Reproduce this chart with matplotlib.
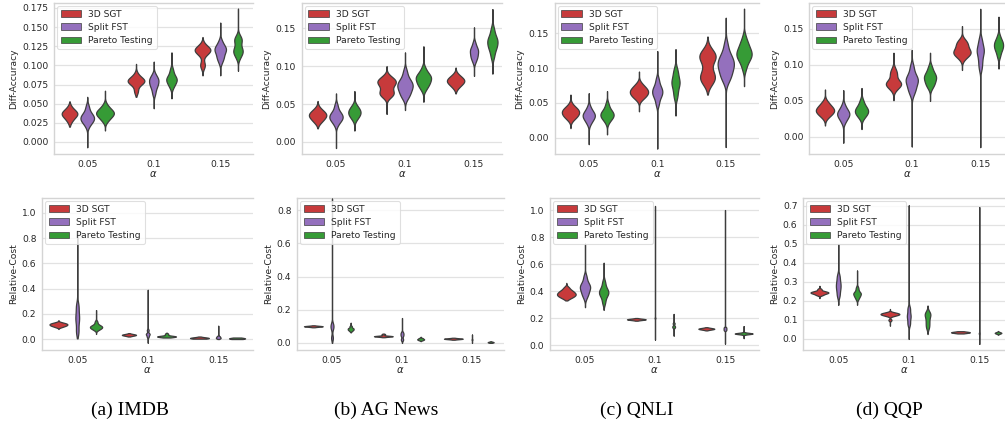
import numpy as np
import matplotlib
matplotlib.use("Agg")
import matplotlib.pyplot as plt
from matplotlib.patches import Patch

# ---------------- data ----------------
ALPHAS = ["0.05", "0.1", "0.15"]
METHODS = ["3D SGT", "Split FST", "Pareto Testing"]
CAPTIONS = ["(a) IMDB", "(b) AG News", "(c) QNLI", "(d) QQP"]

# each violin: list of (value, number of runs); one violin per alpha
IMDB_ACC_SGT = [[(0.026, 1), (0.030, 2), (0.034, 3), (0.037, 4), (0.040, 3), (0.043, 1), (0.046, 1)],
                [(0.066, 2), (0.074, 2), (0.078, 4), (0.081, 5), (0.085, 2), (0.089, 1)],
                [(0.099, 2), (0.104, 1), (0.114, 2), (0.118, 3), (0.121, 4), (0.124, 2), (0.128, 1)]]
IMDB_ACC_FST = [[(0.020, 1), (0.025, 2), (0.029, 3), (0.033, 3), (0.037, 2), (0.042, 1), (0.047, 1)],
                [(0.063, 1), (0.069, 1), (0.074, 2), (0.079, 2), (0.083, 2), (0.088, 1)],
                [(0.104, 1), (0.110, 2), (0.116, 2), (0.121, 3), (0.126, 2), (0.132, 1)]]
IMDB_ACC_PAR = [[(0.028, 2), (0.032, 2), (0.035, 3), (0.038, 4), (0.041, 3), (0.045, 2), (0.049, 1)],
                [(0.071, 1), (0.076, 2), (0.081, 3), (0.085, 2), (0.090, 1), (0.095, 1)],
                [(0.110, 1), (0.116, 2), (0.121, 2), (0.127, 1), (0.133, 2), (0.138, 1)]]
IMDB_ACC_SGT_RANGE = [(0.020, 0.053), (0.059, 0.102), (0.087, 0.137)]
IMDB_ACC_FST_RANGE = [(-0.007, 0.059), (0.044, 0.105), (0.087, 0.156)]
IMDB_ACC_PAR_RANGE = [(0.015, 0.067), (0.057, 0.117), (0.093, 0.174)]

AG_ACC_SGT = [[(0.026, 2), (0.030, 3), (0.034, 4), (0.037, 4), (0.041, 3), (0.045, 1)],
              [(0.060, 2), (0.064, 3), (0.068, 2), (0.073, 2), (0.077, 3), (0.081, 4), (0.086, 2)],
              [(0.072, 2), (0.076, 3), (0.080, 6), (0.084, 4), (0.088, 2)]]
AG_ACC_FST = [[(0.022, 1), (0.027, 2), (0.031, 3), (0.035, 3), (0.039, 2), (0.044, 1), (0.049, 1)],
              [(0.057, 1), (0.062, 2), (0.067, 2), (0.072, 3), (0.077, 3), (0.082, 2), (0.088, 1), (0.094, 1)],
              [(0.106, 1), (0.112, 2), (0.118, 2), (0.123, 2), (0.130, 1)]]
AG_ACC_PAR = [[(0.029, 1), (0.033, 2), (0.037, 3), (0.041, 3), (0.045, 2), (0.049, 1)],
              [(0.068, 1), (0.073, 2), (0.078, 3), (0.083, 3), (0.087, 3), (0.092, 2), (0.098, 1)],
              [(0.112, 1), (0.119, 1), (0.125, 2), (0.131, 2), (0.136, 2), (0.142, 1), (0.149, 1)]]
AG_ACC_SGT_RANGE = [(0.018, 0.054), (0.037, 0.100), (0.064, 0.098)]
AG_ACC_FST_RANGE = [(-0.008, 0.064), (0.042, 0.118), (0.087, 0.151)]
AG_ACC_PAR_RANGE = [(0.015, 0.067), (0.053, 0.126), (0.090, 0.175)]

QNLI_ACC_SGT = [[(0.027, 2), (0.031, 3), (0.035, 4), (0.039, 4), (0.043, 3), (0.048, 1)],
                [(0.056, 2), (0.060, 3), (0.064, 4), (0.068, 4), (0.072, 3), (0.077, 2)],
                [(0.077, 1), (0.082, 2), (0.087, 2), (0.092, 2), (0.100, 1), (0.108, 1), (0.113, 2),
                 (0.117, 2), (0.121, 2), (0.127, 1)]]
QNLI_ACC_FST = [[(0.020, 1), (0.025, 2), (0.030, 3), (0.034, 3), (0.039, 2), (0.045, 1)],
                [(0.048, 1), (0.055, 1), (0.061, 2), (0.066, 2), (0.071, 2), (0.077, 1), (0.084, 1)],
                [(0.080, 1), (0.087, 2), (0.094, 2), (0.100, 2), (0.106, 3), (0.112, 2), (0.118, 2),
                 (0.126, 1), (0.135, 1)]]
QNLI_ACC_PAR = [[(0.022, 1), (0.027, 2), (0.031, 3), (0.035, 3), (0.039, 2), (0.044, 1), (0.049, 1)],
                [(0.058, 1), (0.066, 1), (0.073, 1), (0.079, 2), (0.085, 1), (0.091, 1), (0.098, 1)],
                [(0.098, 1), (0.105, 1), (0.111, 2), (0.117, 3), (0.123, 3), (0.129, 2), (0.136, 2), (0.145, 1)]]
QNLI_ACC_SGT_RANGE = [(0.014, 0.062), (0.038, 0.095), (0.062, 0.145)]
QNLI_ACC_FST_RANGE = [(-0.009, 0.064), (-0.015, 0.124), (-0.013, 0.172)]
QNLI_ACC_PAR_RANGE = [(0.005, 0.067), (0.032, 0.127), (0.074, 0.185)]

QQP_ACC_SGT = [[(0.028, 2), (0.032, 3), (0.036, 5), (0.040, 4), (0.044, 2), (0.048, 2)],
               [(0.065, 1), (0.069, 2), (0.073, 4), (0.077, 3), (0.082, 1), (0.087, 2), (0.091, 1), (0.095, 1)],
               [(0.108, 1), (0.112, 2), (0.116, 4), (0.120, 3), (0.124, 2), (0.129, 3), (0.134, 2)]]
QQP_ACC_FST = [[(0.020, 1), (0.025, 2), (0.030, 3), (0.034, 3), (0.039, 2), (0.045, 1)],
               [(0.059, 1), (0.066, 2), (0.073, 2), (0.079, 3), (0.085, 2), (0.092, 1), (0.099, 1)],
               [(0.096, 1), (0.105, 1), (0.113, 1), (0.120, 2), (0.127, 1), (0.135, 1)]]
QQP_ACC_PAR = [[(0.026, 1), (0.030, 2), (0.034, 3), (0.038, 3), (0.042, 2), (0.047, 1), (0.051, 1)],
               [(0.068, 1), (0.073, 2), (0.078, 2), (0.083, 3), (0.088, 2), (0.093, 1), (0.098, 1)],
               [(0.112, 1), (0.118, 1), (0.123, 2), (0.128, 2), (0.133, 2), (0.140, 1)]]
QQP_ACC_SGT_RANGE = [(0.016, 0.066), (0.051, 0.117), (0.093, 0.154)]
QQP_ACC_FST_RANGE = [(-0.008, 0.065), (-0.013, 0.121), (-0.014, 0.178)]
QQP_ACC_PAR_RANGE = [(0.011, 0.068), (0.050, 0.117), (0.095, 0.167)]

IMDB_COST_SGT = [[(0.095, 2), (0.103, 3), (0.110, 4), (0.117, 4), (0.124, 4), (0.132, 2)],
                 [(0.028, 3), (0.032, 6), (0.036, 6)],
                 [(0.008, 20)]]
IMDB_COST_FST = [[(0.06, 1), (0.14, 1), (0.19, 1), (0.26, 1)],
                 [(0.02, 1), (0.04, 2), (0.07, 1)],
                 [(0.008, 3), (0.02, 2)]]
IMDB_COST_PAR = [[(0.07, 1), (0.08, 2), (0.09, 3), (0.10, 3), (0.11, 2), (0.125, 1), (0.14, 1)],
                 [(0.020, 17), (0.040, 3)],
                 [(0.005, 17)]]
IMDB_COST_SGT_RANGE = [(0.08, 0.15), (0.020, 0.047), (0.003, 0.020)]
IMDB_COST_FST_RANGE = [(0.005, 0.86), (-0.03, 0.39), (0.0, 0.105)]
IMDB_COST_PAR_RANGE = [(0.04, 0.23), (0.012, 0.05), (0.0, 0.012)]

AG_COST_SGT = [[(0.100, 19)], [(0.040, 16), (0.052, 3)], [(0.025, 19)]]
AG_COST_FST = [[(0.03, 1), (0.09, 1), (0.11, 1)], [(0.02, 1), (0.045, 1), (0.06, 1)], [(0.02, 1)]]
AG_COST_PAR = [[(0.072, 1), (0.080, 2), (0.088, 2), (0.100, 1)],
               [(0.017, 2), (0.022, 3), (0.028, 2)],
               [(0.004, 6)]]
AG_COST_SGT_RANGE = [(0.094, 0.106), (0.034, 0.056), (0.019, 0.031)]
AG_COST_FST_RANGE = [(0.0, 0.87), (0.0, 0.15), (0.0, 0.05)]
AG_COST_PAR_RANGE = [(0.063, 0.122), (0.010, 0.037), (0.0, 0.010)]

QNLI_COST_SGT = [[(0.345, 2), (0.36, 4), (0.375, 5), (0.39, 4), (0.405, 3), (0.425, 2)],
                 [(0.190, 20)],
                 [(0.117, 8), (0.123, 9)]]
QNLI_COST_FST = [[(0.35, 1), (0.38, 2), (0.41, 2), (0.43, 2), (0.45, 2), (0.48, 1), (0.51, 1)],
                 [(0.20, 1)],
                 [(0.11, 1), (0.12, 1), (0.13, 1)]]
QNLI_COST_PAR = [[(0.31, 1), (0.34, 1), (0.37, 2), (0.39, 2), (0.41, 2), (0.44, 1), (0.47, 1)],
                 [(0.13, 1), (0.14, 1), (0.16, 1)],
                 [(0.085, 19)]]
QNLI_COST_SGT_RANGE = [(0.33, 0.46), (0.180, 0.200), (0.108, 0.132)]
QNLI_COST_FST_RANGE = [(0.28, 0.75), (0.04, 1.03), (0.01, 1.0)]
QNLI_COST_PAR_RANGE = [(0.26, 0.61), (0.07, 0.23), (0.05, 0.14)]

QQP_COST_SGT = [[(0.232, 3), (0.240, 5), (0.246, 6), (0.252, 3), (0.262, 2)],
                [(0.10, 2), (0.123, 4), (0.130, 8), (0.137, 6)],
                [(0.035, 20)]]
QQP_COST_FST = [[(0.23, 1), (0.26, 1), (0.28, 1), (0.30, 1), (0.33, 1)],
                [(0.08, 1), (0.11, 1), (0.13, 1), (0.16, 1)],
                [(0.03, 1)]]
QQP_COST_PAR = [[(0.21, 1), (0.225, 2), (0.24, 3), (0.255, 1), (0.27, 1)],
                [(0.06, 1), (0.08, 1), (0.10, 1), (0.12, 1), (0.13, 1), (0.14, 1)],
                [(0.032, 7)]]
QQP_COST_SGT_RANGE = [(0.215, 0.28), (0.07, 0.158), (0.029, 0.041)]
QQP_COST_FST_RANGE = [(0.179, 0.50), (0.0, 0.703), (-0.026, 0.694)]
QQP_COST_PAR_RANGE = [(0.18, 0.36), (0.026, 0.176), (0.022, 0.042)]

# ---------------- style / layout ----------------
COLORS = ["#c73a3b", "#9470bd", "#369b36"]
EDGE = "#3d3d3d"
TEXT = "#262626"
FS = 6.6
W, H = 1005, 429
BW_STD_FACTOR = 0.5

TOP_PANELS = [
    dict(obs=(IMDB_ACC_SGT, IMDB_ACC_FST, IMDB_ACC_PAR), rng=(IMDB_ACC_SGT_RANGE, IMDB_ACC_FST_RANGE, IMDB_ACC_PAR_RANGE),
         bw=0.004, ylim=(-0.0157, 0.1815), ticks=np.arange(0, 0.176, 0.025), fmt="{:.3f}", box=(54, 66.5, 253)),
    dict(obs=(AG_ACC_SGT, AG_ACC_FST, AG_ACC_PAR), rng=(AG_ACC_SGT_RANGE, AG_ACC_FST_RANGE, AG_ACC_PAR_RANGE),
         bw=0.004, ylim=(-0.0158, 0.183), ticks=np.arange(0, 0.151, 0.05), fmt="{:.2f}", box=(301.5, 69, 502)),
    dict(obs=(QNLI_ACC_SGT, QNLI_ACC_FST, QNLI_ACC_PAR), rng=(QNLI_ACC_SGT_RANGE, QNLI_ACC_FST_RANGE, QNLI_ACC_PAR_RANGE),
         bw=0.0045, ylim=(-0.023, 0.193), ticks=np.arange(0, 0.151, 0.05), fmt="{:.2f}", box=(554.5, 68.5, 759)),
    dict(obs=(QQP_ACC_SGT, QQP_ACC_FST, QQP_ACC_PAR), rng=(QQP_ACC_SGT_RANGE, QQP_ACC_FST_RANGE, QQP_ACC_PAR_RANGE),
         bw=0.0045, ylim=(-0.0236, 0.186), ticks=np.arange(0, 0.151, 0.05), fmt="{:.2f}", box=(809, 68.5, 1005)),
]
BOTTOM_PANELS = [
    dict(obs=(IMDB_COST_SGT, IMDB_COST_FST, IMDB_COST_PAR), rng=(IMDB_COST_SGT_RANGE, IMDB_COST_FST_RANGE, IMDB_COST_PAR_RANGE),
         bw=0.006, ylim=(-0.087, 1.119), ticks=np.arange(0, 1.01, 0.2), fmt="{:.1f}", box=(42, 70.5, 253)),
    dict(obs=(AG_COST_SGT, AG_COST_FST, AG_COST_PAR), rng=(AG_COST_SGT_RANGE, AG_COST_FST_RANGE, AG_COST_PAR_RANGE),
         bw=0.003, ylim=(-0.043, 0.874), ticks=np.arange(0, 0.81, 0.2), fmt="{:.1f}", box=(297, 70, 504)),
    dict(obs=(QNLI_COST_SGT, QNLI_COST_FST, QNLI_COST_PAR), rng=(QNLI_COST_SGT_RANGE, QNLI_COST_FST_RANGE, QNLI_COST_PAR_RANGE),
         bw=0.005, ylim=(-0.037, 1.089), ticks=np.arange(0, 1.01, 0.2), fmt="{:.1f}", box=(550, 70, 759)),
    dict(obs=(QQP_COST_SGT, QQP_COST_FST, QQP_COST_PAR), rng=(QQP_COST_SGT_RANGE, QQP_COST_FST_RANGE, QQP_COST_PAR_RANGE),
         bw=0.004, ylim=(-0.058, 0.742), ticks=np.arange(0, 0.71, 0.1), fmt="{:.1f}", box=(803, 70.5, 1005)),
]


def kde(obs, grid, base_bw):
    vals = np.array([v for v, c in obs], float)
    cnt = np.array([c for v, c in obs], float)
    mean = (vals * cnt).sum() / cnt.sum()
    std = np.sqrt((cnt * (vals - mean) ** 2).sum() / cnt.sum())
    bw = max(base_bw, BW_STD_FACTOR * std)
    d = (cnt[:, None] * np.exp(-0.5 * ((grid[None, :] - vals[:, None]) / bw) ** 2)).sum(axis=0)
    return d, cnt.sum()


def draw_panel(fig, p, top_px, bot_px, ylabel):
    left, spacing, right = p["box"]
    ax = fig.add_axes([left / W, 1 - bot_px / H, (right - left) / W, (bot_px - top_px) / H])
    ax.set_facecolor("white")
    nmax = max(sum(c for _, c in o) for series in p["obs"] for o in series)
    half_full = 0.8 / 3 / 2
    for j, (series, ranges) in enumerate(zip(p["obs"], p["rng"])):
        for i, (o, (lo, hi)) in enumerate(zip(series, ranges)):
            y = np.linspace(lo, hi, 3000)
            d, n = kde(o, y, p["bw"])
            half = half_full * (n / nmax) * d / d.max()
            half[0] = half[-1] = 0
            pos = i + (j - 1) * 0.8 / 3
            ax.fill_betweenx(y, pos - half, pos + half, facecolor=COLORS[j],
                             edgecolor=EDGE, linewidth=0.9, zorder=3)
    ax.set_xlim(-0.5, -0.5 + (right - left) / spacing)
    ax.set_ylim(*p["ylim"])
    ax.set_xticks(range(len(ALPHAS)))
    ax.set_xticklabels(ALPHAS)
    ax.set_yticks(p["ticks"])
    ax.set_yticklabels([p["fmt"].format(t) for t in p["ticks"]])
    ax.tick_params(length=0, labelsize=FS, labelcolor=TEXT, pad=4)
    ax.yaxis.grid(True, color="#e2e2e2", linewidth=0.9, zorder=0)
    ax.xaxis.grid(False)
    ax.set_axisbelow(True)
    for s in ["left", "top", "bottom"]:
        ax.spines[s].set_color("#d4d4d4")
        ax.spines[s].set_linewidth(1.0)
    ax.spines["right"].set_visible(False)
    ax.set_xlabel(r"$\alpha$", fontsize=FS + 0.6, color=TEXT, labelpad=0)
    ax.set_ylabel(ylabel, fontsize=FS, color=TEXT, labelpad=3)
    handles = [Patch(facecolor=c, edgecolor=EDGE, linewidth=0.5) for c in COLORS]
    leg = ax.legend(handles, METHODS, loc="upper left", fontsize=FS, frameon=True,
                    borderaxespad=0.35, handlelength=2.2, handleheight=0.75, labelspacing=0.45,
                    handletextpad=0.8, borderpad=0.4)
    leg.get_frame().set_edgecolor("#d8d8d8")
    leg.get_frame().set_linewidth(0.8)
    for t in leg.get_texts():
        t.set_color(TEXT)
    return ax


fig = plt.figure(figsize=(W / 100, H / 100), dpi=100)
fig.patch.set_facecolor("white")
for p in TOP_PANELS:
    draw_panel(fig, p, 3, 154, "Diff-Accuracy")
for p in BOTTOM_PANELS:
    draw_panel(fig, p, 198, 350, "Relative-Cost")

CAPTION_X = [130, 386, 637, 889]
for cx, cap in zip(CAPTION_X, CAPTIONS):
    fig.text(cx / W, 1 - 410 / H, cap, ha="center", va="center",
             fontfamily="Liberation Serif", fontsize=14, color="black")

fig.savefig("out.png", dpi=100, facecolor="white")
